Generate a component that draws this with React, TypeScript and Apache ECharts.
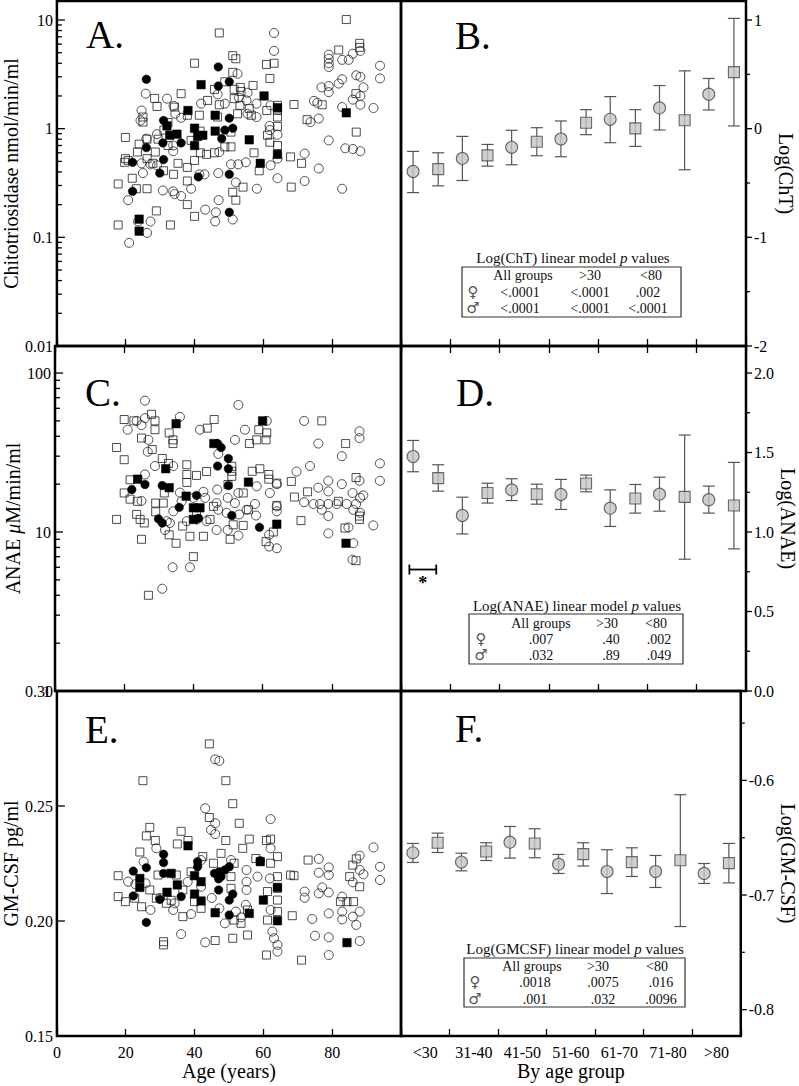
import React, { useEffect, useRef } from "react";
import * as echarts from "echarts";

const FONT = "'Liberation Serif', 'Times New Roman', serif";

// ---------- Panel A: Chitotriosidase (nmol/min/ml) vs age ----------
const aOpenSquares = [[84.1,10.1],[47.2,7.6],[40,4.0],[51.1,4.7],[52,4.4],[60.9,3.9],[63.1,4.0],[61.9,2.9],[57,2.5],[51.1,3.3],[48.8,2.7],[45.8,2.3],[53.3,2.4],[53.5,2.2],[36.1,2.1],[28.4,1.9],[29.1,1.6],[25,1.28],[25,1.15],[19.9,0.83],[23.9,0.72],[19.9,0.53],[19.7,0.49],[21.9,0.35],[17.8,0.31],[23.1,0.28],[26.2,0.28],[28.9,0.175],[17.8,0.13],[33,0.13],[37.9,0.2],[40,0.156],[52,0.22],[51.1,0.26],[54.1,0.29],[68.1,0.29],[71.1,0.48],[67.9,0.55],[72.7,1.21],[68.9,1.67],[77.1,1.66],[81.9,5.3],[88,6.1],[88,5.6],[87,0.93],[86.9,2.1],[64.1,1.64],[64.1,1.47],[64.1,1.28],[64.1,1.05],[64.1,0.7],[61.2,0.87],[61.9,0.75],[61,1.47],[56.5,1.33],[55.9,1.53],[53.2,1.64],[52.5,1.37],[50.6,0.93],[48.8,0.68],[50.6,0.68],[46.7,1.28],[43.8,1.82],[47.2,1.66],[41.4,1.33],[41.6,0.95],[39,0.78],[37.9,1.33],[34.2,1.58],[32.3,1.14],[31.1,0.97],[29.4,0.8],[28.6,0.61],[26.2,0.8],[26.2,0.53],[27.9,0.48],[31,0.41],[33.9,0.38],[35.2,0.48],[37.9,0.44],[37.9,0.33],[40,0.51],[41.7,0.6],[43.5,0.58],[45.8,0.6],[57.3,0.6],[58.8,0.41],[51.5,1.89],[51.5,2.3],[23.4,0.61],[20.7,0.51],[32.3,0.7]];
const aOpenCircles = [[63.1,7.6],[63.1,5.2],[52.5,3.2],[25.8,2.1],[32,1.89],[33.9,1.62],[41.9,1.7],[46.7,2.07],[52.9,1.93],[55.4,2.14],[55.1,1.82],[58,1.7],[62.1,1.64],[58,1.28],[55.4,1.37],[48.8,1.7],[61.8,1.06],[61.9,0.97],[64.1,0.88],[24.6,1.47],[24.3,1.19],[34.4,1.37],[36.1,1.26],[33.8,0.7],[33.8,0.62],[26,0.81],[24.6,0.48],[25,0.39],[27.2,0.47],[29.1,0.89],[29.1,0.46],[30.8,0.27],[33.8,0.265],[34.2,0.25],[36.1,0.24],[39,0.28],[41.4,0.38],[42.9,0.38],[46.9,0.39],[47.2,0.61],[43.1,0.18],[46.2,0.17],[46,0.14],[47,0.22],[51.1,0.146],[52,0.32],[54.9,0.49],[52.7,0.47],[50.6,0.47],[58.1,0.28],[62.1,0.46],[64.1,0.53],[64.1,0.35],[20.7,0.22],[23.6,0.14],[26.2,0.11],[27.2,0.14],[21,0.089],[72,0.59],[72,0.33],[76.1,0.43],[74.7,1.8],[75.7,1.73],[73.7,1.15],[76.1,1.24],[76.9,2.4],[79,4.8],[79,4.4],[79,4.0],[79,3.7],[79,2.47],[79,2.17],[79,0.78],[82.9,2.85],[81.9,2.6],[82.9,4.3],[84.8,4.3],[86,4.9],[88.2,5.2],[87,3.1],[88.2,3.0],[89.1,2.4],[88.2,2.0],[86,1.85],[88.2,1.66],[92,1.55],[93.9,3.8],[93.9,2.9],[82.9,1.58],[83.8,0.66],[86,0.65],[88.2,0.62],[82.9,0.28]];
const aFilledCircles = [[26,2.85],[46.9,3.7],[46.9,2.47],[50.1,2.7],[31,1.19],[50.1,1.25],[48.8,0.97],[51.1,1.01],[30.8,0.74],[36.1,0.74],[47.9,0.81],[26,0.67],[22,0.49],[31,0.52],[29.9,0.39],[41.1,0.36],[50.1,0.38],[22,0.265],[50.1,0.17]];
const aFilledSquares = [[41.9,2.54],[60.2,2.0],[38.1,1.47],[64.1,1.56],[46,1.33],[32,1.06],[32.8,0.87],[34.9,0.89],[40,1.01],[40.9,0.85],[42.4,0.87],[46,0.95],[55.9,0.79],[40,0.7],[64.1,0.58],[59.1,0.48],[84.1,1.4],[23.9,0.147],[23.9,0.114]];

// ---------- Panel C: ANAE (uM/min/ml) vs age ----------
const cOpenCircles = [[26,67],[53,63],[36.1,53],[26,52],[23.6,50],[25,47],[21,44],[41.9,44],[54.9,44],[61.2,50],[72,50],[27,38],[26.8,32],[52,38],[76.1,36],[47.2,31],[88,43],[88,39],[82.9,30],[93.9,27],[69.8,24],[73.7,26],[28.9,26],[34.2,26],[26,23],[79,21],[82.9,20],[88,21],[93.9,21],[76.1,19],[79,18],[86,17.6],[89.1,17],[88.2,16.4],[72,15.4],[74.7,15],[76.6,15],[79,15],[81.4,15],[84.3,15],[87,15],[86.2,13.8],[77.1,13.8],[79,12.6],[88.2,13.2],[92,11],[84.8,10.7],[79,9.8],[86,6.7],[86.2,8.5],[62.1,17.6],[58.3,19.4],[53,17.6],[52,15.2],[49.9,16.4],[46.9,18.5],[46.7,15.2],[43.4,16.4],[42.9,17.9],[40,16.4],[36.1,17.7],[36.6,15.6],[34.2,13.5],[32.3,11.7],[33.2,11.4],[31.8,10.3],[38.1,11.7],[40.9,12],[43.8,11.7],[47.2,13.8],[49.6,13.2],[53.2,12.9],[55.4,13.8],[57.8,15],[58.1,12.7],[53,9.5],[49.9,10.3],[46.7,10.3],[61.9,9.6],[61.9,8.1],[64.1,7.9],[64.1,13.5],[64.1,20],[64.1,14.5],[34,6],[39,6],[31,4.4],[25,15.7]];
const cOpenSquares = [[20,51],[22.8,50],[27.9,55],[28.9,50],[28.9,44],[25,39],[17.8,34],[20,28.5],[33,42],[34.1,38],[34.1,36],[44,45],[46,51],[58.9,44],[61.2,42],[61,38],[58.3,38],[56.2,36],[77.1,50],[84,36],[28.1,33],[31,29],[32.8,27],[38.1,26.5],[38.1,23],[38.1,20.5],[40.9,22.7],[43.8,24],[51.1,25.9],[51.1,24.1],[51.1,22.4],[57,24.1],[59.2,25],[61.8,23],[61.8,21.5],[64.1,20.3],[68.3,20.8],[69.2,16.6],[73,17.9],[71.1,11.8],[81.9,15.6],[87,22],[88,12.6],[88,12],[83.8,10.6],[87,6.6],[21.7,21.3],[21.7,16.1],[20,17.6],[23.8,15.6],[17.8,12],[23.6,12.9],[24.6,12],[25.8,11.4],[25,9],[29.1,15.2],[29.1,13.4],[31.6,17.6],[31.3,15.2],[33,9.6],[35,8.5],[36.9,10.9],[39,9.4],[40,7],[42.9,9.4],[44.8,12],[50.6,9],[51.5,11.1],[54.4,11],[55.9,13.8],[54.4,17.6],[61,8.7],[63.1,10],[64.1,14.7],[27,4],[40.9,13.2],[45.8,14.5],[50,19.9]];
const cFilledCircles = [[47,36],[48,34],[50.1,29],[47,26],[50.1,25],[22.2,18.5],[26,19.9],[31,19.6],[35.9,14.3],[40.9,17],[50.1,19.6],[51.1,12.7],[29.9,12.1],[31,11.4],[59.1,10.7],[41.5,12.2]];
const cFilledSquares = [[35,48],[45.9,36],[60,50],[32,25],[23.9,21.5],[33,19],[55.9,20.6],[37.9,16.8],[40,14.2],[41.9,14.2],[40,12],[64.1,11.2],[84.1,8.5]];

// ---------- Panel E: GM-CSF (pg/ml) vs age ----------
const eOpenSquares = [[44.3,0.277],[25,0.261],[49.1,0.261],[51.1,0.251],[53,0.2425],[27,0.2407],[26,0.237],[36.1,0.239],[24.1,0.23],[28.6,0.235],[35,0.2335],[38.1,0.235],[44.3,0.245],[49.1,0.235],[55.9,0.2356],[60.9,0.235],[62.1,0.2356],[54,0.2316],[57.8,0.2272],[62.1,0.2251],[64.1,0.228],[17.8,0.2197],[17.8,0.2106],[19.9,0.2084],[22.6,0.2099],[27,0.2135],[28.9,0.2099],[31.8,0.2077],[33.2,0.209],[36.6,0.2135],[36.6,0.2019],[40,0.2084],[41.9,0.2055],[42.4,0.228],[45.5,0.2251],[47.7,0.2294],[51.5,0.2251],[50.6,0.2193],[50.6,0.2142],[51.5,0.2004],[51.1,0.1925],[53.5,0.199],[55.4,0.2048],[55.4,0.1939],[61.2,0.2004],[60.9,0.1852],[61.2,0.2128],[64.1,0.2193],[64.1,0.2091],[64.1,0.2041],[64.1,0.2142],[68.4,0.2023],[67.9,0.22],[68.9,0.2197],[73,0.2265],[71.1,0.183],[31,0.191],[31,0.1896],[46,0.1915],[85.1,0.2193],[86,0.2243],[87,0.227],[88,0.2149],[86.2,0.2084],[82.4,0.2084],[84.3,0.2084],[24.6,0.2062],[39,0.2214],[34.7,0.22],[29.4,0.22]];
const eOpenCircles = [[46,0.2703],[47.2,0.2696],[43.1,0.249],[46,0.2425],[44.8,0.2396],[46,0.2378],[62.1,0.2443],[62.1,0.2316],[92,0.232],[93.9,0.2236],[93.9,0.2178],[76.1,0.227],[79,0.2233],[76.1,0.221],[79,0.22],[77.1,0.2146],[72,0.2128],[72,0.2101],[76.1,0.212],[79,0.2124],[88,0.2284],[88,0.2222],[89.1,0.2203],[86,0.2168],[88,0.2041],[86,0.2019],[82.9,0.2106],[82.9,0.2041],[82.9,0.2007],[87,0.1983],[74.2,0.2009],[79,0.2033],[75,0.1936],[79,0.1929],[79,0.1852],[88,0.1913],[27.2,0.2048],[25.8,0.2164],[25.2,0.2258],[28.9,0.2316],[20.7,0.2171],[36.1,0.1943],[39,0.203],[43.1,0.1907],[48.8,0.199],[52,0.2041],[53.5,0.2016],[54.9,0.207],[55.1,0.2135],[55.1,0.2171],[55.1,0.2222],[58.3,0.2193],[50.6,0.2265],[62.1,0.2048],[62.6,0.1954],[63.1,0.1925],[64.1,0.1896],[64.1,0.1867],[61.9,0.2185],[41.9,0.2265],[41.9,0.2149],[34.2,0.2077],[33.8,0.2048],[47.2,0.2055],[22.8,0.216],[30,0.21],[38,0.217],[45,0.21]];
const eFilledCircles = [[22.2,0.2217],[31,0.229],[31,0.2254],[26,0.2232],[31,0.2207],[22.2,0.2109],[26,0.1994],[29.9,0.2094],[36.1,0.2106],[40.9,0.2258],[40.9,0.2236],[45.8,0.2207],[47.2,0.2214],[47.7,0.2193],[48.8,0.2222],[50.1,0.2236],[47,0.2183],[47,0.2135],[50.1,0.2091],[51.1,0.2117],[50.1,0.2026],[59.1,0.2262]];
const eFilledSquares = [[38.1,0.2327],[24.1,0.2185],[24.1,0.2146],[33.2,0.2207],[35,0.2157],[32,0.2125],[40,0.2197],[41.9,0.2171],[40,0.2117],[41.9,0.2087],[46,0.2036],[55.9,0.2033],[60,0.2091],[59.1,0.2258],[64.1,0.2146],[64.1,0.2001],[84.3,0.1906]];

// ---------- Right column: group means with error bars ----------
const ageGroups = ["<30", "31-40", "41-50", "51-60", "61-70", "71-80", ">80"];

const bCircleMean = [-0.394, -0.274, -0.172, -0.095, 0.086, 0.191, 0.317];
const bCircleLow = [-0.588, -0.477, -0.332, -0.258, -0.129, -0.012, 0.172];
const bCircleHigh = [-0.209, -0.071, -0.015, 0.071, 0.295, 0.397, 0.462];
const bSquareMean = [-0.372, -0.246, -0.12, 0.055, 0.003, 0.077, 0.52];
const bSquareLow = [-0.526, -0.345, -0.249, -0.055, -0.163, -0.378, 0.025];
const bSquareHigh = [-0.222, -0.145, 0.009, 0.175, 0.175, 0.532, 1.015];

const dCircleMean = [1.475, 1.104, 1.265, 1.236, 1.15, 1.238, 1.203];
const dCircleLow = [1.379, 0.988, 1.198, 1.142, 1.035, 1.131, 1.119];
const dCircleHigh = [1.576, 1.219, 1.335, 1.331, 1.265, 1.345, 1.289];
const dSquareMean = [1.339, 1.245, 1.238, 1.305, 1.211, 1.221, 1.167];
const dSquareLow = [1.257, 1.182, 1.175, 1.253, 1.119, 0.829, 0.894];
const dSquareHigh = [1.423, 1.307, 1.301, 1.358, 1.299, 1.61, 1.438];
const dBracket = [[0.17, 0.715, 0.764, 0.7]];

const fCircleMean = [-0.6632, -0.6713, -0.6539, -0.6731, -0.6795, -0.6795, -0.6812];
const fCircleLow = [-0.6716, -0.6789, -0.6678, -0.6812, -0.6987, -0.6934, -0.6899];
const fCircleHigh = [-0.655, -0.6635, -0.6402, -0.6646, -0.6605, -0.6655, -0.6725];
const fSquareMean = [-0.6544, -0.662, -0.655, -0.6643, -0.6713, -0.6696, -0.6722];
const fSquareLow = [-0.6629, -0.6699, -0.6675, -0.6747, -0.6838, -0.7275, -0.6894];
const fSquareHigh = [-0.646, -0.6544, -0.6422, -0.6544, -0.6588, -0.6125, -0.655];

// ---------- p-value tables ----------
const pTitles = ["Log(ChT)", "Log(ANAE)", "Log(GMCSF)"];
const pHeader = ["All groups", ">30", "<80"];
const pFemale = [["<.0001", "<.0001", ".002"], [".007", ".40", ".002"], [".0018", ".0075", ".016"]];
const pMale = [["<.0001", "<.0001", "<.0001"], [".032", ".89", ".049"], [".001", ".032", ".0096"]];

const ageTicks = [0, 20, 40, 60, 80, 100];

const log10 = (v: number) => Math.log(v) / Math.LN10;
const near = (v: number, step: number) => Math.abs(v / step - Math.round(v / step)) < 1e-6;

function App() {
  const ref = useRef<HTMLDivElement>(null);

  useEffect(() => {
    document.body.style.margin = "0";
    const chart = echarts.init(ref.current!, undefined, { renderer: "svg" });

    const L = { left: 55, width: 346 };
    const R = { left: 401, width: 345 };
    const rows = [{ top: 1, height: 345 }, { top: 346, height: 345 }, { top: 691, height: 345 }];
    const gridBase = { show: true, borderColor: "#000", borderWidth: 2.5, backgroundColor: "transparent", containLabel: false };
    const grid = [
      { ...gridBase, ...L, ...rows[0] },
      { ...gridBase, ...R, ...rows[0] },
      { ...gridBase, ...L, ...rows[1] },
      { ...gridBase, ...R, ...rows[1] },
      { ...gridBase, ...L, ...rows[2] },
      { ...gridBase, ...R, ...rows[2] },
    ];

    const tickStyle = { color: "#000", width: 1.3 };
    const ageAxis = (gridIndex: number, position: string, labels: boolean) => ({
      type: "value", gridIndex, position, min: ageTicks[0], max: ageTicks[ageTicks.length - 1], interval: 20,
      axisLine: { show: false, onZero: false }, splitLine: { show: false },
      axisTick: { show: true, inside: true, length: 7, lineStyle: tickStyle },
      axisLabel: labels ? {
        show: true, margin: 8, fontSize: 16, fontFamily: FONT, color: "#000",
        formatter: (v: number) => (v >= 100 ? "" : String(v)),
      } : { show: false },
    });
    const groupAxis = (gridIndex: number, position: string, labels: boolean) => ({
      type: "category", gridIndex, position, data: ageGroups, boundaryGap: true,
      axisLine: { show: false, onZero: false }, splitLine: { show: false },
      axisTick: { show: true, inside: true, length: 7, alignWithLabel: false, lineStyle: tickStyle },
      axisLabel: labels ? { show: true, interval: 0, margin: 8, fontSize: 16, fontFamily: FONT, color: "#000" } : { show: false },
    });
    const hiddenGroupValue = (gridIndex: number) => ({ type: "value", gridIndex, min: 0, max: ageGroups.length, show: false, axisLine: { onZero: false } });

    const nameStyle = { fontSize: 20, fontFamily: FONT, color: "#000" };
    const xAxis = [
      ageAxis(0, "bottom", false), // 0 A
      groupAxis(1, "bottom", false), // 1 B
      hiddenGroupValue(1), // 2 B value
      ageAxis(2, "bottom", false), // 3 C
      ageAxis(2, "top", false), // 4 C top
      groupAxis(3, "bottom", false), // 5 D
      groupAxis(3, "top", false), // 6 D top
      hiddenGroupValue(3), // 7 D value
      { ...ageAxis(4, "bottom", true), name: "Age (years)", nameLocation: "middle", nameGap: 24, nameTextStyle: nameStyle }, // 8 E
      { ...groupAxis(5, "bottom", true), name: "By age group", nameLocation: "middle", nameGap: 25, nameTextStyle: nameStyle }, // 9 F
      hiddenGroupValue(5), // 10 F value
    ];

    const labelBase = { show: true, fontSize: 16, fontFamily: FONT, color: "#000" };
    const powLabel = (v: number) => (near(v, 1) ? String(Number(Math.pow(10, Math.round(v)).toPrecision(3))) : "");
    const yBase = { type: "value", axisLine: { show: false, onZero: false }, axisTick: { show: false }, splitLine: { show: false } };
    const yAxis = [
      { ...yBase, gridIndex: 0, position: "left", min: -2, max: 1.175, interval: 1,
        axisLabel: { ...labelBase, margin: 4, formatter: powLabel },
        name: "Chitotriosidase nmol/min/ml", nameLocation: "middle", nameGap: 28, nameTextStyle: nameStyle },
      { ...yBase, gridIndex: 1, position: "right", min: -2, max: 1.175, interval: 1,
        axisLabel: { ...labelBase, margin: 8, formatter: (v: number) => (near(v, 1) ? String(Math.round(v)) : "") },
        name: "Log(ChT)", nameLocation: "middle", nameRotate: -90, nameGap: 30, nameTextStyle: nameStyle },
      { ...yBase, gridIndex: 2, position: "left", min: 0, max: 2.17, interval: 1,
        axisLabel: { ...labelBase, margin: 4, formatter: powLabel },
        name: "ANAE {i|\u03bc}M/min/ml", nameLocation: "middle", nameGap: 28,
        nameTextStyle: { ...nameStyle, rich: { i: { fontSize: 20, fontFamily: FONT, fontStyle: "italic", color: "#000" } } } },
      { ...yBase, gridIndex: 3, position: "right", min: 0, max: 2.17, interval: 0.5,
        axisLabel: { ...labelBase, margin: 8, formatter: (v: number) => (near(v, 0.5) ? v.toFixed(1) : "") },
        name: "Log(ANAE)", nameLocation: "middle", nameRotate: -90, nameGap: 30, nameTextStyle: nameStyle },
      { ...yBase, gridIndex: 4, position: "left", min: 0.15, max: 0.3, interval: 0.05,
        axisLabel: { ...labelBase, margin: 4, formatter: (v: number) => (near(v, 0.05) ? v.toFixed(2) : "") },
        name: "GM-CSF pg/ml", nameLocation: "middle", nameGap: 28, nameTextStyle: nameStyle },
      { ...yBase, gridIndex: 5, position: "right", min: -0.823, max: -0.522, splitNumber: 3,
        axisLabel: { ...labelBase, margin: 8, formatter: (v: number) => (near(v, 0.1) ? v.toFixed(1) : "") },
        name: "Log(GM-CSF)", nameLocation: "middle", nameRotate: -90, nameGap: 30, nameTextStyle: nameStyle },
    ];

    const openStyle = { color: "rgba(0,0,0,0)", borderColor: "#222", borderWidth: 1 };
    const fillStyle = { color: "#000", borderColor: "#000", borderWidth: 0.5, opacity: 1 };
    const scatterSet = (xi: number, yi: number, tf: (v: number) => number, os: number[][], oc: number[][], fc: number[][], fs: number[][]) => [
      { type: "scatter", xAxisIndex: xi, yAxisIndex: yi, symbol: "rect", symbolSize: 8, itemStyle: openStyle, data: os.map((p) => [p[0], tf(p[1])]), z: 2 },
      { type: "scatter", xAxisIndex: xi, yAxisIndex: yi, symbol: "circle", symbolSize: 9, itemStyle: openStyle, data: oc.map((p) => [p[0], tf(p[1])]), z: 2 },
      { type: "scatter", xAxisIndex: xi, yAxisIndex: yi, symbol: "circle", symbolSize: 8.5, itemStyle: fillStyle, data: fc.map((p) => [p[0], tf(p[1])]), z: 3 },
      { type: "scatter", xAxisIndex: xi, yAxisIndex: yi, symbol: "rect", symbolSize: 8.5, itemStyle: fillStyle, data: fs.map((p) => [p[0], tf(p[1])]), z: 3 },
    ];

    const tickSeries = (xi: number, yi: number, xEdge: number, majors: number[], minors: number[], majLen: number, minLen: number) => ({
      type: "custom", xAxisIndex: xi, yAxisIndex: yi, silent: true, clip: false, z: 6,
      data: [...majors.map((v) => [xEdge, v, majLen]), ...minors.map((v) => [xEdge, v, minLen])],
      encode: { x: 0, y: 1 },
      renderItem: (_p: any, api: any) => {
        const pt = api.coord([api.value(0), api.value(1)]);
        const len = api.value(2);
        return { type: "line", shape: { x1: pt[0], y1: pt[1], x2: pt[0] + len, y2: pt[1] }, style: { stroke: "#000", lineWidth: 1.3 } };
      },
    });

    const decadeMinors = (from: number, to: number) => {
      const out: number[] = [];
      for (let n = from; n < to; n++) for (let k = 2; k <= 9; k++) out.push(n + log10(k));
      return out;
    };

    const OFFS_C = 0.245;
    const OFFS_S = 0.755;
    const meanSet = (xi: number, yi: number, cm: number[], cl: number[], ch: number[], sm: number[], sl: number[], sh: number[]) => {
      const bars = [
        ...cm.map((_, i) => [i + OFFS_C, cl[i], ch[i]]),
        ...sm.map((_, i) => [i + OFFS_S, sl[i], sh[i]]),
      ];
      const markStyle = { color: "#c4c4c4", borderColor: "#4a4a4a", borderWidth: 1.1 };
      return [
        {
          type: "custom", xAxisIndex: xi, yAxisIndex: yi, silent: true, z: 3, data: bars, encode: { x: 0, y: [1, 2] },
          renderItem: (_p: any, api: any) => {
            const lo = api.coord([api.value(0), api.value(1)]);
            const hi = api.coord([api.value(0), api.value(2)]);
            const w = 6;
            const st = { stroke: "#555", lineWidth: 1.2 };
            return {
              type: "group",
              children: [
                { type: "line", shape: { x1: lo[0], y1: lo[1], x2: hi[0], y2: hi[1] }, style: st },
                { type: "line", shape: { x1: lo[0] - w, y1: lo[1], x2: lo[0] + w, y2: lo[1] }, style: st },
                { type: "line", shape: { x1: hi[0] - w, y1: hi[1], x2: hi[0] + w, y2: hi[1] }, style: st },
              ],
            };
          },
        },
        { type: "scatter", xAxisIndex: xi, yAxisIndex: yi, symbol: "circle", symbolSize: 12, itemStyle: markStyle, z: 4, data: cm.map((v, i) => [i + OFFS_C, v]) },
        { type: "scatter", xAxisIndex: xi, yAxisIndex: yi, symbol: "rect", symbolSize: 11, itemStyle: markStyle, z: 4, data: sm.map((v, i) => [i + OFFS_S, v]) },
      ];
    };

    const bracketSeries = {
      type: "custom", xAxisIndex: 7, yAxisIndex: 3, silent: true, z: 5, data: dBracket, encode: { x: [0, 1], y: [2, 3] },
      renderItem: (_p: any, api: any) => {
        const a = api.coord([api.value(0), api.value(2)]);
        const b = api.coord([api.value(1), api.value(2)]);
        const s = api.coord([(api.value(0) + api.value(1)) / 2, api.value(3)]);
        const st = { stroke: "#000", lineWidth: 1.8 };
        return {
          type: "group",
          children: [
            { type: "line", shape: { x1: a[0], y1: a[1], x2: b[0], y2: b[1] }, style: st },
            { type: "line", shape: { x1: a[0], y1: a[1] - 5, x2: a[0], y2: a[1] + 5 }, style: st },
            { type: "line", shape: { x1: b[0], y1: b[1] - 5, x2: b[0], y2: b[1] + 5 }, style: st },
            { type: "text", x: s[0], y: s[1] + 3, style: { text: "*", fill: "#000", font: `bold 18px ${FONT}`, align: "center", verticalAlign: "middle" } },
          ],
        };
      },
    };

    const series: any[] = [
      ...scatterSet(0, 0, log10, aOpenSquares, aOpenCircles, aFilledCircles, aFilledSquares),
      ...scatterSet(3, 2, log10, cOpenSquares, cOpenCircles, cFilledCircles, cFilledSquares),
      ...scatterSet(8, 4, (v) => v, eOpenSquares, eOpenCircles, eFilledCircles, eFilledSquares),
      ...meanSet(2, 1, bCircleMean, bCircleLow, bCircleHigh, bSquareMean, bSquareLow, bSquareHigh),
      ...meanSet(7, 3, dCircleMean, dCircleLow, dCircleHigh, dSquareMean, dSquareLow, dSquareHigh),
      ...meanSet(10, 5, fCircleMean, fCircleLow, fCircleHigh, fSquareMean, fSquareLow, fSquareHigh),
      bracketSeries,
      tickSeries(0, 0, 0, [-1, 0, 1], decadeMinors(-2, 1), 8, 5),
      tickSeries(3, 2, 0, [1, 2], decadeMinors(0, 2), 8, 5),
      tickSeries(8, 4, 0, [0.2, 0.25], [], 8, 5),
      tickSeries(2, 1, ageGroups.length, [-2, -1, 0, 1], [-1.5, -0.5, 0.5], 6, 4),
      tickSeries(7, 3, ageGroups.length, [0, 0.5, 1, 1.5, 2], [0.25, 0.75, 1.25, 1.75], 6, 4),
      tickSeries(10, 5, ageGroups.length, [-0.8, -0.7, -0.6], [-0.75, -0.65, -0.55], 6, 4),
    ];

    // panel letters and p-value tables (layout only)
    const letters = [
      { t: "A.", x: 86, y: 34 }, { t: "B.", x: 455, y: 35 },
      { t: "C.", x: 85, y: 392 }, { t: "D.", x: 456, y: 392 },
      { t: "E.", x: 85, y: 729 }, { t: "F.", x: 455, y: 728 },
    ];
    const tableLayout = [
      { bx: 462, by: 267, bw: 219, bh: 50, tx: 573, ty: 258, hy: 275, r1: 292, r2: 308, sx: 473, hx: [523, 590, 651], vx: [520, 590, 648] },
      { bx: 469, by: 614, bw: 214, bh: 50, tx: 577, ty: 606, hy: 623, r1: 639, r2: 655, sx: 481, hx: [541, 607, 656], vx: [541, 611, 659] },
      { bx: 464, by: 958, bw: 221, bh: 49, tx: 575, ty: 949, hy: 966, r1: 982, r2: 999, sx: 475, hx: [532, 598, 657], vx: [535, 603, 661] },
    ];
    const txt = (text: string, x: number, y: number, size: number, align = "center", extra: any = {}) => ({
      type: "text", x, y, silent: true, z: 10,
      style: { text, fill: "#111", font: `${size}px ${FONT}`, align, verticalAlign: "middle", ...extra },
    });
    const graphics: any[] = [];
    letters.forEach((l) => graphics.push(txt(l.t, l.x, l.y, 39, "left", { fill: "#000" })));
    tableLayout.forEach((tl, k) => {
      graphics.push({ type: "rect", silent: true, z: 10, shape: { x: tl.bx, y: tl.by, width: tl.bw, height: tl.bh }, style: { fill: "none", stroke: "#333", lineWidth: 1.2 } });
      graphics.push(txt(`${pTitles[k]} linear model {i|p} values`, tl.tx, tl.ty, 15, "center", {
        rich: { i: { fontSize: 15, fontFamily: FONT, fontStyle: "italic", fill: "#111" } },
      }));
      pHeader.forEach((h, j) => graphics.push(txt(h, tl.hx[j], tl.hy, 14)));
      graphics.push(txt("\u2640", tl.sx, tl.r1, 15, "center", { font: "15px 'DejaVu Sans'", fill: "#555" }));
      graphics.push(txt("\u2642", tl.sx, tl.r2, 15, "center", { font: "15px 'DejaVu Sans'", fill: "#555" }));
      pFemale[k].forEach((v, j) => graphics.push(txt(v, tl.vx[j], tl.r1, 14)));
      pMale[k].forEach((v, j) => graphics.push(txt(v, tl.vx[j], tl.r2, 14)));
    });

    chart.setOption({
      animation: false,
      backgroundColor: "#fff",
      grid,
      xAxis,
      yAxis,
      series,
      graphic: graphics,
    });

    return () => chart.dispose();
  }, []);

  return <div ref={ref} style={{ width: 799, height: 1086 }} />;
}

export default App;
